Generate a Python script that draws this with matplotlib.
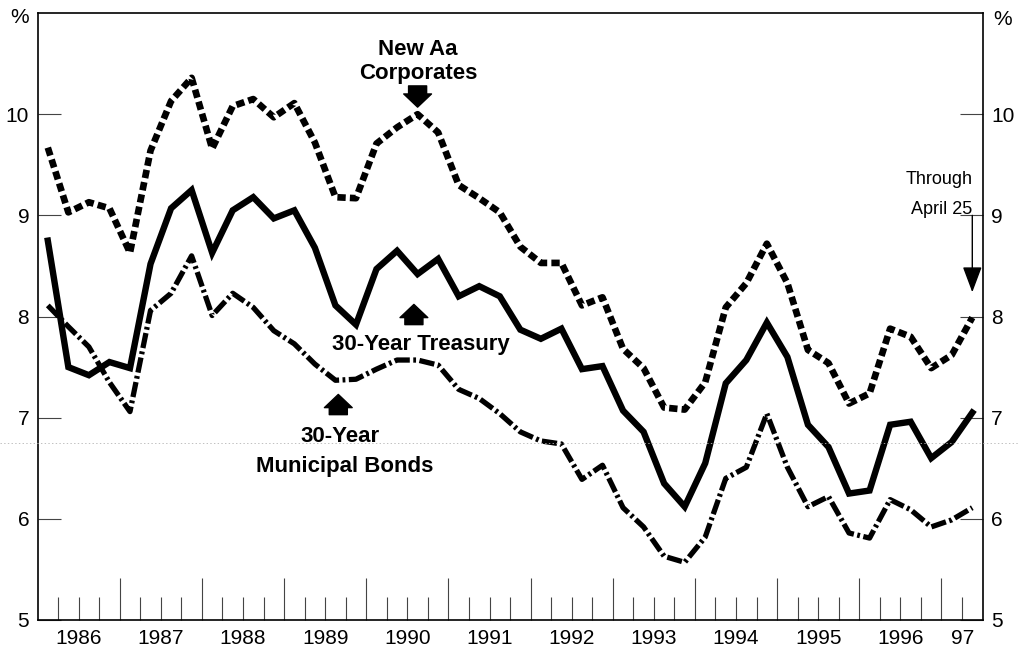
import matplotlib
matplotlib.use('Agg')
import matplotlib.pyplot as plt
from matplotlib.lines import Line2D
import numpy as np

plt.rcParams['font.family'] = ['Liberation Sans', 'DejaVu Sans']
plt.rcParams['lines.scale_dashes'] = False

# quarterly averages, 1986 Q1 through 1997 Q2 (Q2 through April 25)
start_year = 1986
corporates = [9.67, 9.03, 9.13, 9.07, 8.63, 9.64, 10.13, 10.36, 9.66, 10.08, 10.15, 9.97,
              10.11, 9.72, 9.18, 9.17, 9.71, 9.87, 10.0, 9.82, 9.3, 9.17, 9.03, 8.69,
              8.53, 8.53, 8.11, 8.19, 7.68, 7.49, 7.1, 7.08, 7.35, 8.09, 8.33, 8.72,
              8.33, 7.67, 7.54, 7.14, 7.24, 7.88, 7.8, 7.49, 7.62, 7.99]
treasury = [8.75, 7.5, 7.42, 7.55, 7.49, 8.52, 9.07, 9.25, 8.63, 9.05, 9.18, 8.97,
            9.05, 8.68, 8.11, 7.92, 8.47, 8.65, 8.42, 8.57, 8.2, 8.3, 8.2, 7.87,
            7.78, 7.88, 7.48, 7.51, 7.07, 6.86, 6.35, 6.12, 6.55, 7.34, 7.57, 7.94,
            7.6, 6.93, 6.71, 6.25, 6.28, 6.93, 6.96, 6.6, 6.76, 7.05]
municipal = [8.11, 7.9, 7.7, 7.35, 7.06, 8.06, 8.23, 8.6, 8.01, 8.23, 8.09, 7.86,
             7.73, 7.53, 7.37, 7.38, 7.48, 7.57, 7.57, 7.52, 7.28, 7.19, 7.04, 6.86,
             6.77, 6.74, 6.39, 6.53, 6.11, 5.92, 5.63, 5.57, 5.82, 6.4, 6.51, 7.04,
             6.51, 6.12, 6.22, 5.86, 5.81, 6.19, 6.09, 5.92, 5.99, 6.11]
year_labels = ['1986', '1987', '1988', '1989', '1990', '1991', '1992',
               '1993', '1994', '1995', '1996', '97']
y_ticks = [5, 6, 7, 8, 9, 10]

# plot each quarter at its midpoint
x = start_year + (np.arange(len(treasury)) + 0.5) / 4

fig = plt.figure(figsize=(10.2, 6.54), dpi=100)
ax = fig.add_axes([0.0368, 0.052, 0.9265, 0.928])

ax.plot(x, corporates, color='black', lw=4.8, linestyle=(0, (6, 3)))
ax.plot(x, treasury, color='black', lw=4.6, solid_joinstyle='miter')
ax.plot(x, municipal, color='black', lw=3.8, linestyle=(0, (11, 2.5, 2, 2.5)))

ax.set_xlim(1986, 1997.5)
ax.set_ylim(5, 11)

ax.set_xticks(range(1987, 1998))
ax.set_xticks([y + q / 4 for y in range(1986, 1998) for q in (1, 2, 3)
               if y + q / 4 < 1997.5], minor=True)
ax.tick_params(axis='x', which='major', direction='in', length=30, width=0.8,
               color='#444444', labelbottom=False)
ax.tick_params(axis='x', which='minor', direction='in', length=16.5, width=0.8,
               color='#444444')
ax.set_yticks(y_ticks)
ax.tick_params(axis='y', direction='in', length=16.5, width=0.8, color='#444444',
               left=True, right=True, labelleft=True, labelright=True,
               labelsize=15, pad=6)
for s in ax.spines.values():
    s.set_linewidth(1.2)

# year labels between the tall ticks
for i, lab in enumerate(year_labels):
    xc = 1986.5 + i if lab != '97' else 1997.26
    ax.text(xc, -0.03, lab, transform=ax.get_xaxis_transform(),
            ha='center', va='center', fontsize=15)

ax.text(-0.019, 0.993, '%', transform=ax.transAxes, ha='center', va='center', fontsize=15)
ax.text(1.021, 0.99, '%', transform=ax.transAxes, ha='center', va='center', fontsize=15)

bold = dict(fontsize=16, fontweight='bold', ha='center', va='center')
block = dict(arrowstyle='simple,head_width=20,head_length=9.5,tail_width=13',
             color='black', mutation_scale=1, shrinkA=0, shrinkB=0)

# New Aa Corporates
ax.text(1990.63, 10.64, 'New Aa', **bold)
ax.text(1990.63, 10.40, 'Corporates', **bold)
ax.annotate('', xy=(x[18], 10.07), xytext=(x[18], 10.28), arrowprops=block)

# 30-Year Treasury
ax.text(1990.66, 7.72, '30-Year Treasury', **bold)
ax.annotate('', xy=(1990.58, 8.12), xytext=(1990.58, 7.92), arrowprops=block)

# 30-Year Municipal Bonds
ax.text(1989.68, 6.81, '30-Year', **bold)
ax.text(1989.74, 6.52, 'Municipal Bonds', **bold)
ax.annotate('', xy=(1989.66, 7.23), xytext=(1989.66, 7.03), arrowprops=block)

# Through April 25
ax.text(1997.38, 9.35, 'Through', fontsize=13, ha='right', va='center')
ax.text(1997.38, 9.06, 'April 25', fontsize=13, ha='right', va='center')
ax.annotate('', xy=(x[-1], 8.24), xytext=(x[-1], 9.0),
            arrowprops=dict(arrowstyle='-|>,head_width=0.6,head_length=1.6',
                            color='black', lw=1.0, shrinkA=0, shrinkB=0))

# faint scan line across the page
fig.add_artist(Line2D([0, 1], [1 - 443 / 654] * 2, transform=fig.transFigure,
                      color='#b5b5b5', lw=0.6, linestyle=':'))

plt.savefig('out.png', dpi=100)
